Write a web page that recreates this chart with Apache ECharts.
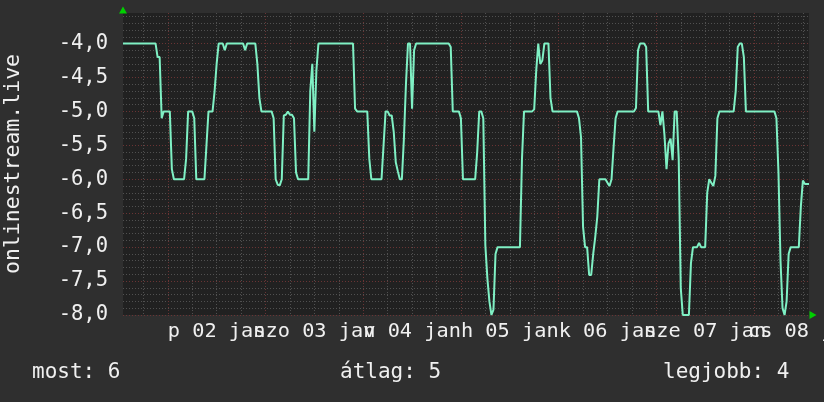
<!DOCTYPE html>
<html><head><meta charset="utf-8">
<script src="https://cdn.jsdelivr.net/npm/echarts@6/dist/echarts.min.js"></script>
<style>html,body{margin:0;padding:0;background:#2f2f2f}#c{width:824px;height:402px}</style>
</head><body><div id="c"></div>
<script>
const seriesName = 'onlinestream.live';
// samples every 30 minutes, starting 2026-01-01 13:00
const startUTC = Date.UTC(2026, 0, 1, 13, 0);
const stepMinutes = 30;
const values = [
  -4,-4,-4,-4,-4,-4,-4,-4,-4,-4,-4,-4,-4,-4,-4,-4,-4,
  -4.2,-4.2,-5.1,-5,-5,-5,-5,-5.85,
  -6,-6,-6,-6,-6,-6,-5.7,-5,-5,-5,-5.1,
  -6,-6,-6,-6,-6,-5.5,-5,-5,-5,-4.7,-4.3,
  -4,-4,-4,-4.1,-4,-4,-4,-4,-4,-4,-4,-4,-4,-4.1,
  -4,-4,-4,-4,-4,-4.3,-4.8,-5,-5,-5,-5,-5,-5,-5.1,
  -6,-6.08,-6.09,-6,-5.06,-5.05,-5,-5.05,-5.05,-5.1,-5.9,
  -6,-6,-6,-6,-6,-6,-4.7,-4.3,-5.3,-4.4,
  -4,-4,-4,-4,-4,-4,-4,-4,-4,-4,-4,-4,-4,-4,-4,-4,-4,-4,
  -4.96,-5,-5,-5,-5,-5,-5,-5.7,-6,-6,-6,-6,-6,-6,
  -5.5,-5,-5,-5.06,-5.06,-5.3,-5.75,-5.88,-6,-6,-5.4,-4.6,-4,-4,-4.96,-4.1,
  -4,-4,-4,-4,-4,-4,-4,-4,-4,-4,-4,-4,-4,-4,-4,-4,-4,
  -4.05,-5,-5,-5,-5,-5.1,-6,-6,-6,-6,-6,-6,-6,-5.6,-5,-5,-5.1,
  -6.97,-7.46,-7.8,-8,-7.92,-7.1,-7,-7,-7,-7,-7,-7,-7,-7,-7,-7,-7,-7,
  -5.7,-5,-5,-5,-5,-5,-4.97,-4.4,-4,-4.3,-4.25,-4,-4,-4,-4.8,
  -5,-5,-5,-5,-5,-5,-5,-5,-5,-5,-5,-5,-5,
  -5.1,-5.38,-6.7,-7,-7,-7.41,-7.41,-7.1,-6.85,-6.55,-6,-6,-6,-6,-6.05,-6.1,-6,-5.53,-5.1,
  -5,-5,-5,-5,-5,-5,-5,-5,-5,-4.95,-4.1,-4,-4,-4,-4.05,
  -5,-5,-5,-5,-5,-5,-5.2,-5,-5.35,-5.85,-5.47,-5.4,-5.72,-5,-5,-5.7,
  -7.6,-8,-8,-8,-8,-7.24,-7,-7,-7,-6.94,-7,-7,-7,-6.2,-6,-6.05,-6.1,-5.95,-5.1,
  -5,-5,-5,-5,-5,-5,-5,-5,-4.7,-4.05,-4,-4,-4.2,
  -5,-5,-5,-5,-5,-5,-5,-5,-5,-5,-5,-5,-5,-5,-5,
  -5.1,-5.9,-7.2,-7.9,-8,-7.8,-7.1,-7,-7,-7,-7,-7,-6.4,-6.02,-6.07,-6.07,-6.07
];
// x tick labels (centered at noon of each day) and their sample index
const xTickIndex = [46, 94, 142, 190, 238, 286, 334];
const xTickLabels = ['p 02 jan', 'szo 03 jan', 'v 04 jan', 'h 05 jan', 'k 06 jan', 'sze 07 jan', 'cs 08 jan'];
const yTickValues = [-8, -7.5, -7, -6.5, -6, -5.5, -5, -4.5, -4];
const yTickLabels = ['-8,0', '-7,5', '-7,0', '-6,5', '-6,0', '-5,5', '-5,0', '-4,5', '-4,0'];
const legendTexts = ['most: 6', 'átlag: 5', 'legjobb: 4'];

const FONT = 'DejaVu Sans Mono';
const TXT = '#f0f0f0';
const GREY = '#505050';
const RED = '#6a3434';

const categories = values.map((v, i) => {
  const d = new Date(startUTC + i * stepMinutes * 60000);
  return d.toISOString().slice(5, 16);
});
const labelMap = {};
xTickIndex.forEach((idx, k) => { labelMap[idx] = xTickLabels[k]; });
const yLabelMap = {};
yTickValues.forEach((v, k) => { yLabelMap[Math.round(v * 10)] = yTickLabels[k]; });

const chart = echarts.init(document.getElementById('c'), null, {renderer: 'canvas'});
chart.setOption({
  backgroundColor: '#2f2f2f',
  animation: false,
  grid: {left: 123, top: 13, right: 15, bottom: 87, show: true, backgroundColor: '#212121', borderWidth: 0,
    containLabel: false, outerBoundsMode: 'none'},
  xAxis: {
    type: 'category', data: categories, boundaryGap: false,
    axisLine: {show: true, symbol: ['none', 'triangle'], symbolSize: [8, 7], symbolOffset: [0, 4],
      lineStyle: {color: '#00d000', width: 0}},
    axisTick: {show: false},
    axisLabel: {
      interval: 0,
      formatter: (value, index) => labelMap[index] || '',
      color: TXT, fontFamily: FONT, fontSize: 20.3, margin: 7, hideOverlap: false
    },
    splitLine: {show: true, interval: (index) => index % 12 === 10,
      lineStyle: {color: [GREY, RED, GREY, GREY], type: [1, 2], width: 1}}
  },
  yAxis: {
    type: 'value', min: -8, max: -3.55, interval: 0.1,
    name: seriesName, nameLocation: 'middle', nameRotate: 90, nameGap: 99,
    nameTextStyle: {color: TXT, fontFamily: FONT, fontSize: 21.5},
    axisLine: {show: true, symbol: ['none', 'triangle'], symbolSize: [8, 7], symbolOffset: [0, 3],
      lineStyle: {color: '#00d000', width: 0}},
    axisTick: {show: false},
    axisLabel: {
      color: TXT, fontFamily: FONT, fontSize: 20.5, margin: 15,
      formatter: (v) => yLabelMap[Math.round(v * 10)] || ''
    },
    splitLine: {show: true, showMaxLine: false,
      lineStyle: {color: [RED, GREY, GREY, GREY, GREY], type: [1, 2], width: 1}}
  },
  series: [{
    name: seriesName, type: 'line', data: values, showSymbol: false,
    lineStyle: {color: '#7ff0c4', width: 2}, itemStyle: {color: '#7ff0c4'}
  }],
  graphic: [
    {type: 'text', left: 32, top: 362, style: {text: legendTexts[0], fill: TXT, font: '21px "DejaVu Sans Mono"'}},
    {type: 'text', left: 340, top: 362, style: {text: legendTexts[1], fill: TXT, font: '21px "DejaVu Sans Mono"'}},
    {type: 'text', left: 663, top: 362, style: {text: legendTexts[2], fill: TXT, font: '21px "DejaVu Sans Mono"'}}
  ]
});
</script></body></html>
